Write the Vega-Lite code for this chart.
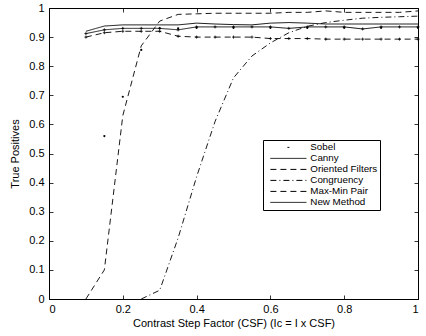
{
  "$schema": "https://vega.github.io/schema/vega-lite/v6.json",
  "width": 369,
  "height": 291,
  "autosize": {"type": "none"},
  "padding": {"left": 49, "top": 8, "right": 8, "bottom": 37},
  "background": "white",
  "config": {
    "view": {"stroke": "black", "strokeWidth": 1},
    "font": "Liberation Sans",
    "axis": {
      "domainColor": "black", "tickColor": "black", "grid": false,
      "labelFont": "Liberation Sans", "labelFontSize": 11, "labelColor": "black",
      "titleFont": "Liberation Sans", "titleFontSize": 11, "titleFontWeight": "normal", "titleColor": "black",
      "tickSize": -4, "tickWidth": 0.8
    }
  },
  "datasets": {
    "lines": [
      {"s": "Canny", "x": 0.1, "y": 0.912}, {"s": "Canny", "x": 0.15, "y": 0.925}, {"s": "Canny", "x": 0.2, "y": 0.93}, {"s": "Canny", "x": 0.25, "y": 0.93}, {"s": "Canny", "x": 0.3, "y": 0.93}, {"s": "Canny", "x": 0.35, "y": 0.925}, {"s": "Canny", "x": 0.4, "y": 0.935}, {"s": "Canny", "x": 0.45, "y": 0.935}, {"s": "Canny", "x": 0.5, "y": 0.935}, {"s": "Canny", "x": 0.55, "y": 0.935}, {"s": "Canny", "x": 0.6, "y": 0.935}, {"s": "Canny", "x": 0.65, "y": 0.93}, {"s": "Canny", "x": 0.7, "y": 0.935}, {"s": "Canny", "x": 0.75, "y": 0.935}, {"s": "Canny", "x": 0.8, "y": 0.935}, {"s": "Canny", "x": 0.85, "y": 0.928}, {"s": "Canny", "x": 0.9, "y": 0.935}, {"s": "Canny", "x": 0.95, "y": 0.935}, {"s": "Canny", "x": 1.0, "y": 0.935},
      {"s": "Oriented Filters", "x": 0.1, "y": 0.0}, {"s": "Oriented Filters", "x": 0.15, "y": 0.1}, {"s": "Oriented Filters", "x": 0.2, "y": 0.63}, {"s": "Oriented Filters", "x": 0.25, "y": 0.87}, {"s": "Oriented Filters", "x": 0.3, "y": 0.955}, {"s": "Oriented Filters", "x": 0.35, "y": 0.978}, {"s": "Oriented Filters", "x": 0.4, "y": 0.98}, {"s": "Oriented Filters", "x": 0.45, "y": 0.982}, {"s": "Oriented Filters", "x": 0.5, "y": 0.982}, {"s": "Oriented Filters", "x": 0.55, "y": 0.982}, {"s": "Oriented Filters", "x": 0.6, "y": 0.982}, {"s": "Oriented Filters", "x": 0.65, "y": 0.985}, {"s": "Oriented Filters", "x": 0.7, "y": 0.985}, {"s": "Oriented Filters", "x": 0.75, "y": 0.99}, {"s": "Oriented Filters", "x": 0.8, "y": 0.985}, {"s": "Oriented Filters", "x": 0.85, "y": 0.985}, {"s": "Oriented Filters", "x": 0.9, "y": 0.985}, {"s": "Oriented Filters", "x": 0.95, "y": 0.985}, {"s": "Oriented Filters", "x": 1.0, "y": 0.99},
      {"s": "Congruency", "x": 0.25, "y": 0.0}, {"s": "Congruency", "x": 0.3, "y": 0.03}, {"s": "Congruency", "x": 0.35, "y": 0.21}, {"s": "Congruency", "x": 0.4, "y": 0.42}, {"s": "Congruency", "x": 0.45, "y": 0.61}, {"s": "Congruency", "x": 0.5, "y": 0.76}, {"s": "Congruency", "x": 0.55, "y": 0.835}, {"s": "Congruency", "x": 0.6, "y": 0.88}, {"s": "Congruency", "x": 0.65, "y": 0.915}, {"s": "Congruency", "x": 0.7, "y": 0.937}, {"s": "Congruency", "x": 0.75, "y": 0.95}, {"s": "Congruency", "x": 0.8, "y": 0.958}, {"s": "Congruency", "x": 0.85, "y": 0.965}, {"s": "Congruency", "x": 0.9, "y": 0.968}, {"s": "Congruency", "x": 0.95, "y": 0.97}, {"s": "Congruency", "x": 1.0, "y": 0.972},
      {"s": "Max-Min Pair", "x": 0.1, "y": 0.9}, {"s": "Max-Min Pair", "x": 0.15, "y": 0.915}, {"s": "Max-Min Pair", "x": 0.2, "y": 0.92}, {"s": "Max-Min Pair", "x": 0.25, "y": 0.92}, {"s": "Max-Min Pair", "x": 0.3, "y": 0.92}, {"s": "Max-Min Pair", "x": 0.35, "y": 0.903}, {"s": "Max-Min Pair", "x": 0.4, "y": 0.9}, {"s": "Max-Min Pair", "x": 0.45, "y": 0.9}, {"s": "Max-Min Pair", "x": 0.5, "y": 0.9}, {"s": "Max-Min Pair", "x": 0.55, "y": 0.9}, {"s": "Max-Min Pair", "x": 0.6, "y": 0.895}, {"s": "Max-Min Pair", "x": 0.65, "y": 0.895}, {"s": "Max-Min Pair", "x": 0.7, "y": 0.895}, {"s": "Max-Min Pair", "x": 0.75, "y": 0.893}, {"s": "Max-Min Pair", "x": 0.8, "y": 0.893}, {"s": "Max-Min Pair", "x": 0.85, "y": 0.893}, {"s": "Max-Min Pair", "x": 0.9, "y": 0.893}, {"s": "Max-Min Pair", "x": 0.95, "y": 0.893}, {"s": "Max-Min Pair", "x": 1.0, "y": 0.893},
      {"s": "New Method", "x": 0.1, "y": 0.92}, {"s": "New Method", "x": 0.15, "y": 0.938}, {"s": "New Method", "x": 0.2, "y": 0.942}, {"s": "New Method", "x": 0.25, "y": 0.942}, {"s": "New Method", "x": 0.3, "y": 0.942}, {"s": "New Method", "x": 0.35, "y": 0.942}, {"s": "New Method", "x": 0.4, "y": 0.948}, {"s": "New Method", "x": 0.45, "y": 0.945}, {"s": "New Method", "x": 0.5, "y": 0.943}, {"s": "New Method", "x": 0.55, "y": 0.942}, {"s": "New Method", "x": 0.6, "y": 0.948}, {"s": "New Method", "x": 0.65, "y": 0.95}, {"s": "New Method", "x": 0.7, "y": 0.948}, {"s": "New Method", "x": 0.75, "y": 0.945}, {"s": "New Method", "x": 0.8, "y": 0.945}, {"s": "New Method", "x": 0.85, "y": 0.945}, {"s": "New Method", "x": 0.9, "y": 0.945}, {"s": "New Method", "x": 0.95, "y": 0.945}, {"s": "New Method", "x": 1.0, "y": 0.945}
    ],
    "sobel": [
      {"s": "Sobel", "x": 0.15, "y": 0.56}, {"s": "Sobel", "x": 0.2, "y": 0.695}, {"s": "Sobel", "x": 0.25, "y": 0.856}, {"s": "Sobel", "x": 0.3, "y": 0.93}, {"s": "Sobel", "x": 0.35, "y": 0.93}, {"s": "Sobel", "x": 0.4, "y": 0.932}, {"s": "Sobel", "x": 0.5, "y": 0.932}, {"s": "Sobel", "x": 0.6, "y": 0.932}, {"s": "Sobel", "x": 0.7, "y": 0.932}, {"s": "Sobel", "x": 0.8, "y": 0.932}, {"s": "Sobel", "x": 0.9, "y": 0.932}, {"s": "Sobel", "x": 1.0, "y": 0.932}
    ]
  },
  "layer": [
    {
      "data": {"name": "lines"},
      "mark": {"type": "line", "color": "black", "strokeWidth": 0.9, "clip": true},
      "encoding": {
        "x": {"field": "x", "type": "quantitative", "scale": {"domain": [0, 1], "nice": false},
          "axis": {"orient": "bottom", "values": [0, 0.2, 0.4, 0.6, 0.8, 1], "format": "~g", "labelPadding": 8, "title": "Contrast Step Factor (CSF) (Ic = I x CSF)", "titlePadding": 3}},
        "y": {"field": "y", "type": "quantitative", "scale": {"domain": [0, 1], "nice": false},
          "axis": {"orient": "left", "values": [0, 0.1, 0.2, 0.3, 0.4, 0.5, 0.6, 0.7, 0.8, 0.9, 1], "format": "~g", "labelPadding": 9, "title": "True Positives", "titlePadding": 8}},
        "detail": {"field": "s"},
        "strokeDash": {"field": "s", "type": "nominal",
          "scale": {"domain": ["Sobel", "Canny", "Oriented Filters", "Congruency", "Max-Min Pair", "New Method"],
                    "range": [[0, 17, 2, 100], [1, 0], [6, 4], [6, 3, 1, 3], [6, 4], [1, 0]]},
          "legend": {"title": null, "orient": "none", "legendX": 214, "legendY": 132,
            "strokeColor": "black", "fillColor": "white", "padding": 2.5, "rowPadding": 0,
            "symbolType": "M0,0H18", "symbolSize": 16, "symbolStrokeWidth": 1, "symbolStrokeColor": "black",
            "labelOffset": 35, "labelFontSize": 9.8, "labelFont": "Liberation Sans", "labelColor": "black"}}
      }
    },
    {
      "data": {"name": "sobel"},
      "mark": {"type": "point", "filled": true, "color": "black", "size": 5, "opacity": 1},
      "encoding": {
        "x": {"field": "x", "type": "quantitative", "axis": {"orient": "top", "values": [0, 0.2, 0.4, 0.6, 0.8, 1], "labels": false, "title": null, "domain": false}},
        "y": {"field": "y", "type": "quantitative", "axis": {"orient": "right", "values": [0, 0.1, 0.2, 0.3, 0.4, 0.5, 0.6, 0.7, 0.8, 0.9, 1], "labels": false, "title": null, "domain": false}}
      }
    },
    {
      "data": {"name": "lines"},
      "transform": [{"filter": "datum.s === 'Canny' || datum.s === 'Max-Min Pair'"}],
      "mark": {"type": "point", "shape": "M-1,0H1M0,-1V1", "filled": false, "color": "black", "strokeWidth": 0.8, "size": 9, "opacity": 1},
      "encoding": {
        "x": {"field": "x", "type": "quantitative", "axis": null},
        "y": {"field": "y", "type": "quantitative", "axis": null}
      }
    }
  ],
  "resolve": {"axis": {"x": "independent", "y": "independent"}}
}
